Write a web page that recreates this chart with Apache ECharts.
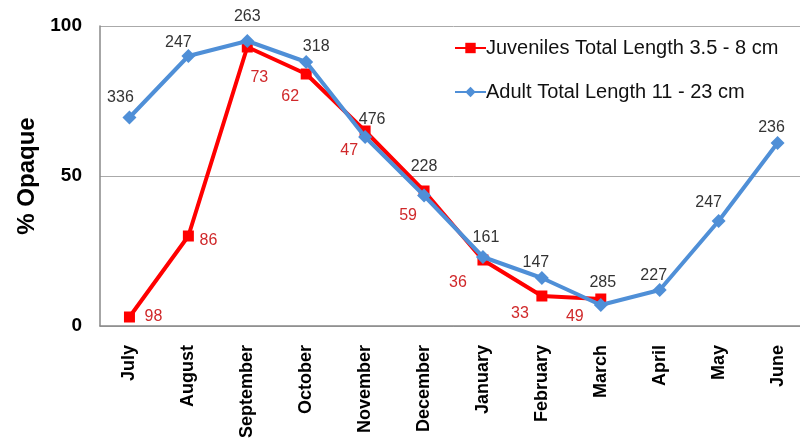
<!DOCTYPE html>
<html>
<head>
<meta charset="utf-8">
<script src="https://cdn.jsdelivr.net/npm/echarts@6/dist/echarts.min.js"></script>
<style>
  html, body { margin: 0; padding: 0; background: #fff; overflow: hidden; }
  #chart { width: 807px; height: 443px; }
</style>
</head>
<body>
<div id="chart"></div>
<script>
// months on the x axis
const months = ['July', 'August', 'September', 'October', 'November', 'December',
  'January', 'February', 'March', 'April', 'May', 'June']

// % opaque
const juvenileValues = [3, 30, 93, 84, 65, 45, 22, 10, 9, null, null, null]
const adultValues = [69.5, 90, 95, 88, 63, 43.5, 23, 16, 7, 12, 35, 61]

// sample sizes shown beside each point
const juvenileCounts = [98, 86, 73, 62, 47, 59, 36, 33, 49, null, null, null]
const adultCounts = [336, 247, 263, 318, 476, 228, 161, 147, 285, 227, 247, 236]

const yTicks = [0, 50, 100]

// label placement (style only)
const juvenileOffsets = [[24, 0], [20, 5], [12, 31], [-16, 23], [-16, 20], [-16, 25], [-25, 23], [-22, 18], [-26, 18]]
const adultOffsets = [[-9, -20], [-10, -13], [0, -24], [10, -15], [7, -17], [0, -29], [3, -19], [-6, -15], [2, -22], [-6, -14], [-10, -18], [-6, -15]]

const chart = echarts.init(document.getElementById('chart'))

const buildData = (values, counts, offsets) => values.map((v, i) => {
  if (v === null) return null
  return {
    value: v,
    label: { formatter: String(counts[i]), offset: offsets[i] }
  }
})

chart.setOption({
  animation: false,
  textStyle: { fontFamily: 'Liberation Sans, Arial, sans-serif' },
  grid: { left: 100, top: 26, right: 0, bottom: 117 },
  legend: {
    orient: 'vertical',
    left: 449,
    top: 33,
    itemWidth: 31,
    itemHeight: 13,
    itemGap: 24,
    textStyle: { fontSize: 20, color: '#111', padding: [0, 0, 0, -5] },
    data: ['Juveniles Total Length 3.5 - 8 cm', 'Adult Total Length 11 - 23 cm']
  },
  xAxis: {
    type: 'category',
    data: months,
    boundaryGap: true,
    axisLine: { lineStyle: { color: '#888', width: 1.5 } },
    axisTick: { show: false },
    axisLabel: {
      rotate: 90,
      margin: 19,
      fontSize: 18,
      fontWeight: 'bold',
      color: '#000'
    }
  },
  yAxis: {
    type: 'value',
    min: yTicks[0],
    max: yTicks[yTicks.length - 1],
    interval: 50,
    name: '% Opaque',
    nameLocation: 'middle',
    nameGap: 58,
    nameTextStyle: { fontSize: 24, fontWeight: 'bold', color: '#000' },
    axisLine: { show: true, lineStyle: { color: '#888', width: 1.5 } },
    axisTick: { show: false },
    axisLabel: { fontSize: 19, fontWeight: 'bold', color: '#000', margin: 18 },
    splitLine: { lineStyle: { color: '#aaa', width: 1 } }
  },
  series: [
    {
      name: 'Juveniles Total Length 3.5 - 8 cm',
      type: 'line',
      data: buildData(juvenileValues, juvenileCounts, juvenileOffsets),
      symbol: 'rect',
      symbolSize: 11,
      lineStyle: { color: '#ff0000', width: 4 },
      itemStyle: { color: '#ff0000' },
      label: { show: true, position: 'inside', fontSize: 16, color: '#d0282a' },
      z: 2
    },
    {
      name: 'Adult Total Length 11 - 23 cm',
      type: 'line',
      data: buildData(adultValues, adultCounts, adultOffsets),
      symbol: 'diamond',
      symbolSize: 14,
      lineStyle: { color: '#4f8fd7', width: 4 },
      itemStyle: { color: '#4f8fd7' },
      label: { show: true, position: 'inside', fontSize: 16, color: '#333' },
      z: 3
    }
  ]
})
</script>
</body>
</html>
